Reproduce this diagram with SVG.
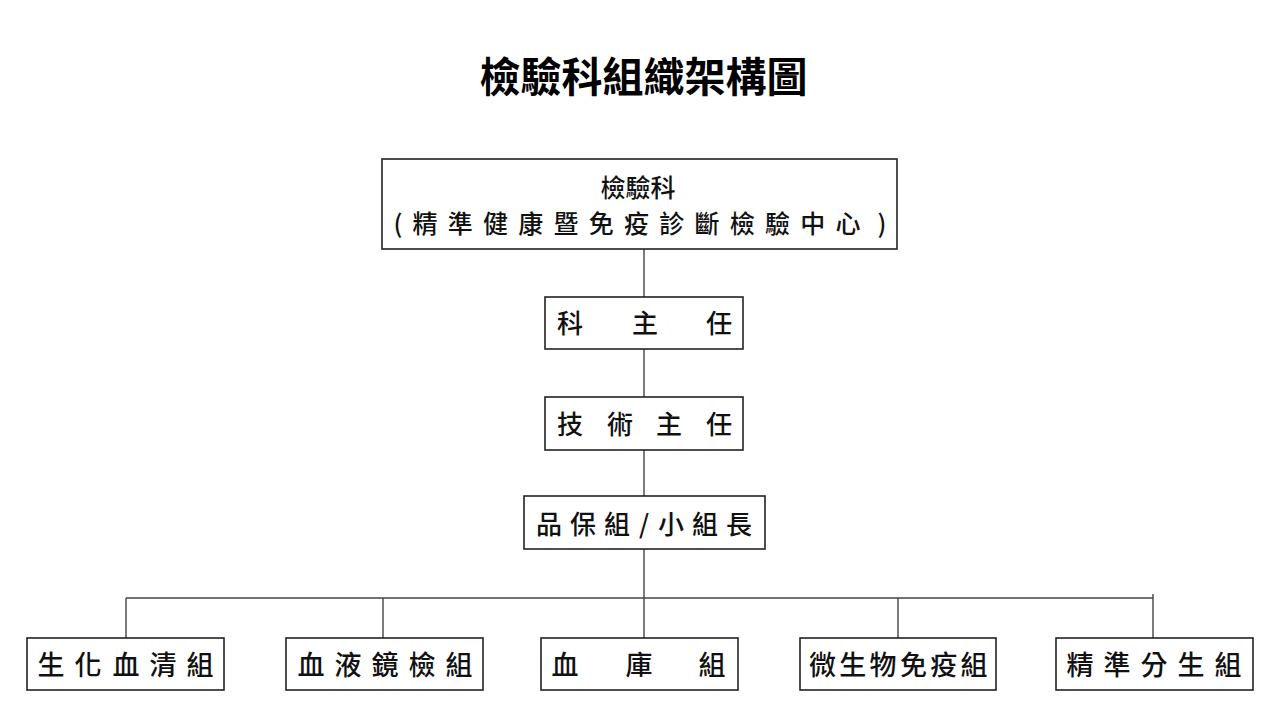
<svg xmlns="http://www.w3.org/2000/svg" width="1281" height="720" viewBox="0 0 1281 720">
<style>
.box{fill:#ffffff;stroke:#222222;stroke-width:1.6}
.ln{fill:none;stroke:#444444;stroke-width:1.4}
.t{font-family:"Noto Sans CJK TC","Noto Sans CJK SC",sans-serif;font-size:25px;font-weight:500;fill:#111111;text-anchor:middle;dominant-baseline:central}
.m{font-size:26px}
.b{font-size:27px}
.title{font-family:"Noto Sans CJK TC","Noto Sans CJK SC",sans-serif;font-size:41px;font-weight:700;fill:#000000;text-anchor:middle;dominant-baseline:central}
</style>
<rect width="1281" height="720" fill="#ffffff"/>
<text class="title" x="643.5" y="74">檢驗科組織架構圖</text>
<g id="connectors">
<line class="ln" x1="644" y1="249" x2="644" y2="297"/>
<line class="ln" x1="644" y1="349" x2="644" y2="397"/>
<line class="ln" x1="644" y1="450" x2="644" y2="496"/>
<line class="ln" x1="644" y1="549" x2="644" y2="598"/>
<line class="ln" x1="126" y1="598" x2="1153" y2="598"/>
<line class="ln" x1="126" y1="598" x2="126" y2="638"/>
<line class="ln" x1="383" y1="598" x2="383" y2="638"/>
<line class="ln" x1="644" y1="598" x2="644" y2="638"/>
<line class="ln" x1="898" y1="598" x2="898" y2="638"/>
<line class="ln" x1="1153" y1="594" x2="1153" y2="638"/>
</g>
<g id="node-dept">
<rect class="box" x="382" y="159" width="515" height="90"/>
<text class="t" x="638" y="186">檢驗科</text>
<text class="t" x="398 425 460.25 495.5 530.75 566 601.25 636.5 671.75 707 742.25 777.5 812.75 848 882" y="222">(精準健康暨免疫診斷檢驗中心)</text>
</g>
<g id="node-director">
<rect class="box" x="545" y="297" width="198" height="52"/>
<text class="t m" x="570 645 719" y="321">科主任</text>
</g>
<g id="node-tech">
<rect class="box" x="545" y="397" width="198" height="53"/>
<text class="t m" x="570 620 669 719" y="422">技術主任</text>
</g>
<g id="node-qa">
<rect class="box" x="524" y="496" width="241" height="53"/>
<text class="t m" x="549 583 617 644 671 705 739" y="522">品保組/小組長</text>
</g>
<g id="node-biochem">
<rect class="box" x="27" y="638" width="197" height="52"/>
<text class="t b" x="51 88 126 163 200" y="663.5">生化血清組</text>
</g>
<g id="node-hema">
<rect class="box" x="286" y="638" width="197" height="52"/>
<text class="t b" x="311 348 385 422 459" y="663.5">血液鏡檢組</text>
</g>
<g id="node-blood">
<rect class="box" x="541" y="638" width="197" height="52"/>
<text class="t b" x="565 639 712" y="663.5">血庫組</text>
</g>
<g id="node-micro">
<rect class="box" x="800" y="638" width="196" height="52"/>
<text class="t b" x="822.5 852.8 883.1 913.4 943.7 974" y="663.5">微生物免疫組</text>
</g>
<g id="node-molecular">
<rect class="box" x="1056" y="638" width="197" height="52"/>
<text class="t b" x="1080 1117 1154 1191 1228" y="663.5">精準分生組</text>
</g>
</svg>
